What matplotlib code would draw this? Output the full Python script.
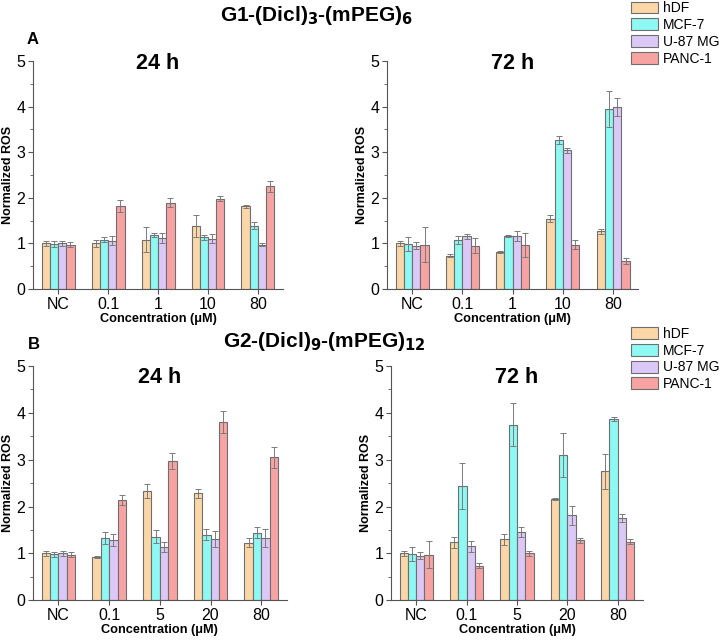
import numpy as np
import matplotlib
matplotlib.use("Agg")
import matplotlib.pyplot as plt
from matplotlib.patches import Patch

plt.rcParams['font.family'] = ['Liberation Sans', 'DejaVu Sans']

# cell lines and colours
cells = ['hDF', 'MCF-7', 'U-87 MG', 'PANC-1']
colors = ['#fbd7a8', '#8ef8f2', '#dcc8f6', '#f8a3a3']

conc_g1 = ['NC', '0.1', '1', '10', '80']
conc_g2 = ['NC', '0.1', '5', '20', '80']

# G1 24 h  (rows = cell line, cols = concentration)
g1_24 = [[1.00, 1.00, 1.08, 1.38, 1.81],
         [0.98, 1.08, 1.18, 1.13, 1.39],
         [1.00, 1.06, 1.12, 1.10, 0.97],
         [0.97, 1.81, 1.89, 1.98, 2.25]]
g1_24_err = [[0.06, 0.08, 0.27, 0.24, 0.04],
             [0.06, 0.06, 0.05, 0.06, 0.08],
             [0.06, 0.09, 0.11, 0.10, 0.03],
             [0.06, 0.13, 0.10, 0.05, 0.12]]

# G1 72 h
g1_72 = [[1.00, 0.73, 0.81, 1.54, 1.26],
         [0.99, 1.07, 1.16, 3.26, 3.95],
         [0.95, 1.15, 1.15, 3.04, 3.99],
         [0.97, 0.95, 0.96, 0.97, 0.61]]
g1_72_err = [[0.05, 0.03, 0.03, 0.08, 0.06],
             [0.15, 0.08, 0.02, 0.09, 0.39],
             [0.07, 0.06, 0.11, 0.06, 0.19],
             [0.38, 0.16, 0.27, 0.10, 0.07]]

# G2 24 h
g2_24 = [[1.00, 0.93, 2.34, 2.28, 1.23],
         [0.98, 1.33, 1.36, 1.40, 1.44],
         [1.00, 1.29, 1.14, 1.30, 1.33],
         [0.97, 2.14, 2.97, 3.80, 3.05]]
g2_24_err = [[0.06, 0.02, 0.15, 0.09, 0.10],
             [0.05, 0.12, 0.13, 0.12, 0.12],
             [0.06, 0.13, 0.11, 0.17, 0.20],
             [0.05, 0.10, 0.17, 0.24, 0.22]]

# G2 72 h
g2_72 = [[1.00, 1.24, 1.30, 2.16, 2.75],
         [0.99, 2.43, 3.75, 3.09, 3.87],
         [0.95, 1.15, 1.45, 1.81, 1.75],
         [0.97, 0.74, 1.00, 1.28, 1.25]]
g2_72_err = [[0.05, 0.12, 0.12, 0.03, 0.37],
             [0.15, 0.49, 0.45, 0.47, 0.05],
             [0.07, 0.12, 0.11, 0.20, 0.09],
             [0.29, 0.06, 0.06, 0.05, 0.06]]


def draw_panel(ax, vals, errs, labels, title, title_y):
    x = np.arange(len(labels))
    w = 0.165
    for i in range(4):
        ax.bar(x + (i - 1.5) * w, vals[i], w, color=colors[i],
               edgecolor='#6e6e6e', linewidth=0.8,
               yerr=errs[i], ecolor='#7a7a7a',
               error_kw=dict(elinewidth=0.7, capsize=2, capthick=0.7))
    ax.set_xlim(-0.5, 4.5)
    ax.set_ylim(0, 5)
    ax.set_xticks(x)
    ax.set_xticklabels(labels)
    ax.set_yticks(range(6))
    ax.set_yticks(np.arange(0.5, 5, 1), minor=True)
    ax.spines['top'].set_visible(False)
    ax.spines['right'].set_visible(False)
    for s in ['left', 'bottom']:
        ax.spines[s].set_color('#555555')
        ax.spines[s].set_linewidth(0.8)
    ax.tick_params(axis='both', labelsize=11.5, color='#555555', length=3.5,
                   width=0.8, pad=2)
    ax.tick_params(axis='y', which='minor', length=2.2, width=0.6, color='#555555')
    ax.set_ylabel('Normalized ROS', fontsize=9, fontweight='bold')
    ax.yaxis.set_label_coords(-0.076, 0.5)
    ax.set_xlabel('Concentration (μM)', fontsize=9.2, fontweight='bold', labelpad=1)
    ax.set_title(title, fontsize=15.5, fontweight='bold', y=title_y)


fig = plt.figure(figsize=(7.2, 6.42), dpi=100)

ax1 = fig.add_axes([0.046, 0.550, 0.347, 0.355])
ax2 = fig.add_axes([0.5375, 0.550, 0.349, 0.355])
ax3 = fig.add_axes([0.046, 0.065, 0.352, 0.365])
ax4 = fig.add_axes([0.543, 0.065, 0.350, 0.365])

draw_panel(ax1, g1_24, g1_24_err, conc_g1, '24 h', 0.93)
draw_panel(ax2, g1_72, g1_72_err, conc_g1, '72 h', 0.93)
draw_panel(ax3, g2_24, g2_24_err, conc_g2, '24 h', 0.89)
draw_panel(ax4, g2_72, g2_72_err, conc_g2, '72 h', 0.89)

fig.text(0.44, 0.976, r'G1-(Dicl)$_\mathbf{3}$-(mPEG)$_\mathbf{6}$',
         ha='center', va='center', fontsize=15, fontweight='bold')
fig.text(0.45, 0.468, r'G2-(Dicl)$_\mathbf{9}$-(mPEG)$_\mathbf{12}$',
         ha='center', va='center', fontsize=15, fontweight='bold')
fig.text(0.037, 0.939, 'A', fontsize=12, fontweight='bold', ha='left', va='center')
fig.text(0.039, 0.463, 'B', fontsize=12, fontweight='bold', ha='left', va='center')

handles = [Patch(facecolor=c, edgecolor='#6e6e6e', linewidth=0.8) for c in colors]
for ypos in [0.998, 0.491]:
    fig.legend(handles, cells, loc='upper left', bbox_to_anchor=(0.876, ypos),
               frameon=False, fontsize=10, handlelength=2.0, handleheight=0.95,
               handletextpad=0.3, labelspacing=0.2, borderaxespad=0, borderpad=0)

fig.savefig('out.png', dpi=100)
